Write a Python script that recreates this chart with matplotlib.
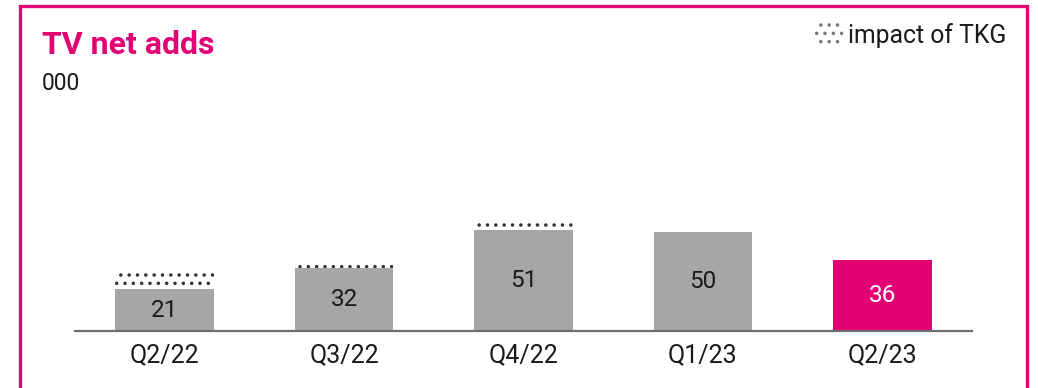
import matplotlib
matplotlib.use("Agg")
import matplotlib.pyplot as plt
from matplotlib.patches import Rectangle

plt.rcParams['font.family'] = ['Roboto', 'DejaVu Sans']
plt.rcParams['hatch.linewidth'] = 1.3

MAGENTA = "#E20074"
GREY = "#A6A6A6"

quarters = ["Q2/22", "Q3/22", "Q4/22", "Q1/23", "Q2/23"]
net_adds = [21, 32, 51, 50, 36]
tkg_impact = [8, 3, 5, 0, 0]
bar_colors = [GREY, GREY, GREY, GREY, MAGENTA]
label_colors = ["#1a1a1a", "#1a1a1a", "#1a1a1a", "#1a1a1a", "white"]

W, H = 1038, 388
fig = plt.figure(figsize=(W / 100, H / 100), dpi=100)

# magenta frame around the panel
fig.patches.append(Rectangle((20 / W, -2 / H), 1007 / W, 384 / H,
                             transform=fig.transFigure, fill=False,
                             edgecolor=MAGENTA, linewidth=2.4))

ax = fig.add_axes([75 / W, 57 / H, 897 / W, 119 / H])
x = range(len(quarters))
bars = ax.bar(x, net_adds, width=0.55, color=bar_colors, zorder=2)
ax.bar(x, tkg_impact, width=0.55, bottom=net_adds, facecolor="white",
       edgecolor="#333333", linewidth=0, hatch="..", zorder=1)

for b, v, c in zip(bars, net_adds, label_colors):
    ax.text(b.get_x() + b.get_width() / 2, v / 2, str(v), ha="center",
            va="center", fontsize=17.5, color=c, zorder=3)

ax.set_xlim(-0.5, 4.5)
ax.set_ylim(0, 60)
ax.set_xticks(list(x))
ax.set_xticklabels(quarters, fontsize=18, color="#1a1a1a")
ax.tick_params(axis="x", length=0, pad=9)
ax.set_yticks([])
for s in ["top", "left", "right"]:
    ax.spines[s].set_visible(False)
ax.spines["bottom"].set_color("#6e6e6e")
ax.spines["bottom"].set_linewidth(1.6)

fig.text(42 / W, 1 - 45 / H, "TV net adds", fontsize=23, fontweight="bold",
         color=MAGENTA, va="center", ha="left")
fig.text(42 / W, 1 - 83 / H, "000", fontsize=16.5, color="#1a1a1a",
         va="center", ha="left")

# legend swatch for the TKG share
fig.patches.append(Rectangle((815 / W, 1 - 47 / H), 28 / W, 25 / H,
                             transform=fig.transFigure, facecolor="white",
                             edgecolor="#777777", linewidth=0, hatch=".."))
fig.text(848 / W, 1 - 36 / H, "impact of TKG", fontsize=17.8, color="#1a1a1a",
         va="center", ha="left")

fig.savefig("out.png", dpi=100)
